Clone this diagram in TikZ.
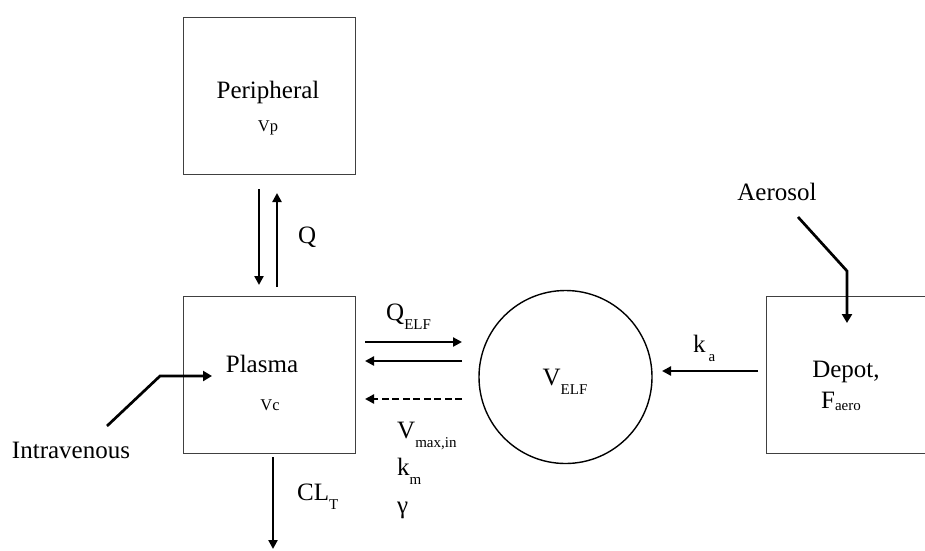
\documentclass[tikz,border=0pt]{standalone}
\usepackage{fontspec}
\setmainfont{Liberation Serif}
\usetikzlibrary{arrows.meta}
\newcommand{\lsub}[1]{\raisebox{-9pt}{\fontsize{15}{15}\selectfont #1}}
\begin{document}
\begin{tikzpicture}[x=1pt,y=-1pt,
  every node/.style={font=\fontsize{25}{30}\selectfont, inner sep=0pt},
  box/.style={draw=black!75, line width=1pt, minimum width=172pt, minimum height=157pt},
  flow/.style={line width=2.3pt, -{Triangle[length=9pt,width=9pt]}},
  feed/.style={line width=2.7pt, -{Triangle[length=9pt,width=10pt]}},
  small/.style={font=\fontsize{16.5}{18}\selectfont}]
\useasboundingbox (0,0) rectangle (925,550);
\clip (0,0) rectangle (925,550);

% compartments
\node[box] (periph) at (269.5,96) {};
\node[anchor=base] (periphtxt) at (268,98) {Peripheral};
\node[anchor=base, small] (vp) at (268,131) {Vp};

\node[box] (plasma) at (269.5,375) {};
\node[anchor=base] (plasmatxt) at (262,372) {Plasma};
\node[anchor=base, small] (vc) at (270,410) {Vc};

\node[draw, circle, line width=1.4pt, minimum size=173pt] (elf) at (565.5,377) {};
\node[anchor=base] (velf) at (565,385) {V\lsub{ELF}};

\node[box, minimum width=200pt, anchor=north west] (depot) at (766,296) {};
\node[anchor=base] (depottxt) at (846,377) {Depot,};
\node[anchor=base] (faero) at (841,408) {F\raisebox{-2pt}{\fontsize{15}{15}\selectfont aero}};

% labels
\node[anchor=base] (aerosol) at (777,200) {Aerosol};
\node[anchor=base] (iv) at (71,458) {Intravenous};
\node[anchor=base west] (q) at (298,243) {Q};
\node[anchor=base west] (qelf) at (386,320) {Q\lsub{ELF}};
\node[anchor=base west] (vmax) at (397,438) {V\lsub{max,in}};
\node[anchor=base west] (km) at (397,475) {k\lsub{m}};
\node[anchor=base west] (gam) at (397,513) {γ};
\node[anchor=base west] (ka) at (693,352) {k\hspace{3pt}\lsub{a}};
\node[anchor=base west] (cl) at (297,500) {CL\lsub{T}};

% connector end points
\coordinate (qd1) at (259,189);
\coordinate (qd2) at (259,285);
\coordinate (qu1) at (277,287);
\coordinate (qu2) at (277,193);
\coordinate (e1a) at (365,342);
\coordinate (e1b) at (462,342);
\coordinate (e2a) at (462,361);
\coordinate (e2b) at (365,361);
\coordinate (e3a) at (462,399);
\coordinate (e3b) at (365,399);
\coordinate (kaa) at (758,371);
\coordinate (kab) at (662,371);
\coordinate (aer1) at (798,217);
\coordinate (aer2) at (847,271);
\coordinate (aertip) at (847,323);
\coordinate (iv1) at (107,426);
\coordinate (iv2) at (160,376);
\coordinate (ivtip) at (212,376);
\coordinate (cl1) at (273,457);
\coordinate (cl2) at (273,549);

% connectors
\draw[flow] (qd1) -- (qd2);
\draw[flow] (qu1) -- (qu2);
\draw[flow] (e1a) -- (e1b);
\draw[flow] (e2a) -- (e2b);
\draw[flow, dash pattern=on 7pt off 3.5pt] (e3a) -- (e3b);
\draw[flow] (kaa) -- (kab);
\draw[feed] (aer1) -- (aer2) -- (aertip);
\draw[feed] (iv1) -- (iv2) -- (ivtip);
\draw[flow] (cl1) -- (cl2);
\end{tikzpicture}
\end{document}
